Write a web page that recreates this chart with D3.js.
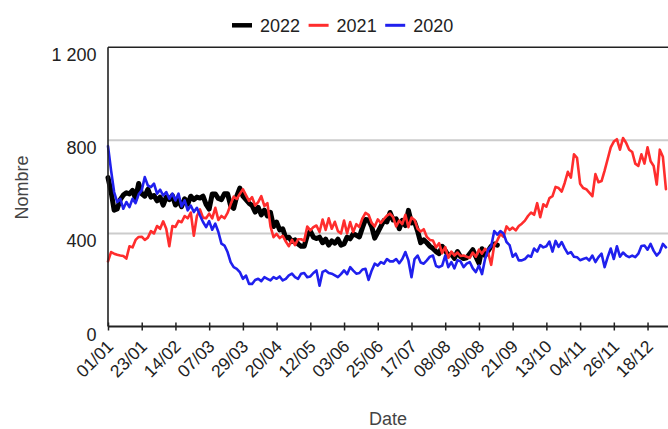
<!DOCTYPE html>
<html><head><meta charset="utf-8">
<script src="https://cdn.jsdelivr.net/npm/d3@7"></script>
<style>body{margin:0;background:#fff;} svg{display:block;font-family:"Liberation Sans",Arial,sans-serif;}</style>
</head><body><svg id="c" width="668" height="429"></svg>
<script>
// ---- data (one value every 2 days, day 0 = 01/01) ----
const seriesNames = ["2022", "2021", "2020"];
const values2022 = [640,580,500,505,545,565,575,570,585,550,615,570,560,590,556,563,540,556,522,556,545,563,522,542,515,549,525,560,545,556,552,560,525,505,570,570,550,545,571,571,520,508,560,595,560,545,530,
520,492,512,480,500,475,490,430,449,415,420,380,384,365,372,355,345,345,391,410,384,378,384,360,375,350,368,358,375,350,355,384,377,398,392,385,425,460,458,430,380,405,430,455,450,490,
458,463,420,456,434,499,445,449,410,360,372,360,345,335,322,313,345,327,305,312,293,322,300,292,295,313,330,300,272,334,305,325,345,355,350];
const values2021 = [280,320,313,308,305,303,292,345,340,372,385,386,372,382,410,400,432,420,452,420,345,432,428,454,448,475,465,490,390,475,503,468,465,485,465,510,458,475,465,488,525,558,548,570,590,565,540,
556,520,535,560,518,530,430,384,398,380,390,365,345,372,350,375,375,368,430,413,427,434,406,460,415,465,420,450,410,400,455,400,449,406,440,428,465,488,480,445,430,460,445,462,477,485,
470,430,455,440,480,427,468,458,420,408,418,385,372,370,340,358,315,341,295,322,305,318,303,305,300,295,318,300,330,313,334,318,265,350,370,398,385,430,415,425,413,432,442,455,475,
490,480,530,470,525,515,552,560,600,595,580,618,665,640,740,725,614,595,590,575,560,655,620,625,670,720,770,795,805,760,810,790,760,750,700,690,740,700,770,710,690,610,760,730,590];
const values2020 = [775,671,578,535,549,506,535,513,549,530,568,585,642,606,599,614,571,588,563,578,549,571,542,571,516,542,499,520,492,510,477,449,427,453,416,442,406,356,348,320,277,255,248,234,205,219,183,
183,200,205,195,212,205,198,212,205,215,198,205,220,227,212,205,227,230,212,215,230,241,175,235,241,230,227,220,212,225,241,225,255,240,227,230,245,248,200,240,270,262,277,270,290,280,
280,290,272,290,320,284,212,290,305,275,270,284,300,305,260,255,262,305,255,277,250,285,280,255,270,277,250,234,262,225,290,330,345,410,395,410,400,363,350,300,313,284,284,290,305,
300,335,322,350,340,345,365,322,368,342,363,336,313,320,300,298,285,290,295,284,305,277,298,313,255,298,335,290,345,300,318,305,298,305,298,313,346,348,330,355,325,305,320,355,340];
const tickLabels = ["01/01","23/01","14/02","07/03","29/03","20/04","12/05","03/06","25/06","17/07","08/08","30/08","21/09","13/10","04/11","26/11","18/12"];
const yTicks = [0, 400, 800, 1200];
const axisYear = 2020;
const dayStep = 2;

// ---- chart ----
const colors = ["#000000", "#ff2d2d", "#2020ee"];
const widths = [5, 2.6, 2.6];
const svg = d3.select("#c");
const pLeft = 108, pRight = 669, pTop = 47.3, pBottom = 326.5, frameRight = 668;

const x = d3.scaleTime().domain([new Date(axisYear, 0, 1), new Date(axisYear + 1, 0, 1)]).range([pLeft, pRight]);
const y = d3.scaleLinear().domain([0, 1200]).range([pBottom, pTop]);
const dateOf = i => d3.timeDay.offset(new Date(axisYear, 0, 1), i * dayStep);
const parse = d3.timeParse("%d/%m/%Y");
const tickDates = tickLabels.map(s => parse(s + "/" + axisYear));
const fr = d3.formatLocale({decimal: ",", thousands: " ", grouping: [3], currency: ["", " €"]}).format(",");

// gridlines
svg.append("g").selectAll("line").data(yTicks.filter(v => v > 0 && v < 1200)).join("line")
  .attr("x1", pLeft).attr("x2", frameRight).attr("y1", d => y(d)).attr("y2", d => y(d))
  .attr("stroke", "#cccccc").attr("stroke-width", 2);

// y labels
svg.append("g").selectAll("text").data(yTicks).join("text")
  .attr("x", 96.5).attr("y", d => y(d) + 14).attr("text-anchor", "end")
  .attr("font-size", 18).attr("fill", "#222").text(d => fr(d));

// series
const all = [values2022, values2021, values2020];
const line = d3.line().x((d, i) => x(dateOf(i))).y(d => y(d)).curve(d3.curveLinear);
all.forEach((vals, k) => {
  svg.append("path").datum(vals).attr("d", line).attr("fill", "none")
    .attr("stroke", colors[k]).attr("stroke-width", widths[k])
    .attr("stroke-linejoin", "round").attr("stroke-linecap", "round");
});

// frame: top line and left axis
svg.append("line").attr("x1", pLeft).attr("x2", frameRight).attr("y1", y(1200)).attr("y2", y(1200))
  .attr("stroke", "#222").attr("stroke-width", 1.6);
svg.append("line").attr("x1", pLeft).attr("x2", pLeft).attr("y1", y(1200)).attr("y2", y(0))
  .attr("stroke", "#222").attr("stroke-width", 1.6);

// x axis
const xAxis = d3.axisBottom(x).tickValues(tickDates).tickFormat(d3.timeFormat("%d/%m")).tickSizeOuter(0).tickSizeInner(4);
const gx = svg.append("g").attr("transform", `translate(0,${y(0)})`).call(xAxis);
gx.select(".domain").attr("stroke", "#222").attr("stroke-width", 1.8).attr("d", `M${pLeft},0H${frameRight}`);
gx.selectAll(".tick line").attr("stroke", "#222").attr("stroke-width", 1.5).attr("y1", -4).attr("y2", 4);
gx.selectAll(".tick text").attr("font-size", 17.5).attr("fill", "#222").attr("font-family", "Liberation Sans, Arial, sans-serif")
  .attr("text-anchor", "end").attr("y", 0).attr("dy", 0)
  .attr("transform", "translate(6,21) rotate(-45)");

// axis titles
svg.append("text").attr("x", 388).attr("y", 425).attr("text-anchor", "middle")
  .attr("font-size", 18).attr("fill", "#444").text("Date");
svg.append("text").attr("transform", "translate(28,187.5) rotate(-90)").attr("text-anchor", "middle")
  .attr("font-size", 18).attr("fill", "#444").text("Nombre");

// legend
const lg = svg.append("g").selectAll("g").data(seriesNames).join("g")
  .attr("transform", (d, i) => `translate(${232 + i * 76.6},0)`);
lg.append("line").attr("x1", 0).attr("x2", 20).attr("y1", 25.3).attr("y2", 25.3)
  .attr("stroke", (d, i) => colors[i]).attr("stroke-width", (d, i) => i === 0 ? 4.5 : 3);
lg.append("text").attr("x", 28).attr("y", 31.5).attr("font-size", 18).attr("fill", "#222").text(d => d);
</script></body></html>
